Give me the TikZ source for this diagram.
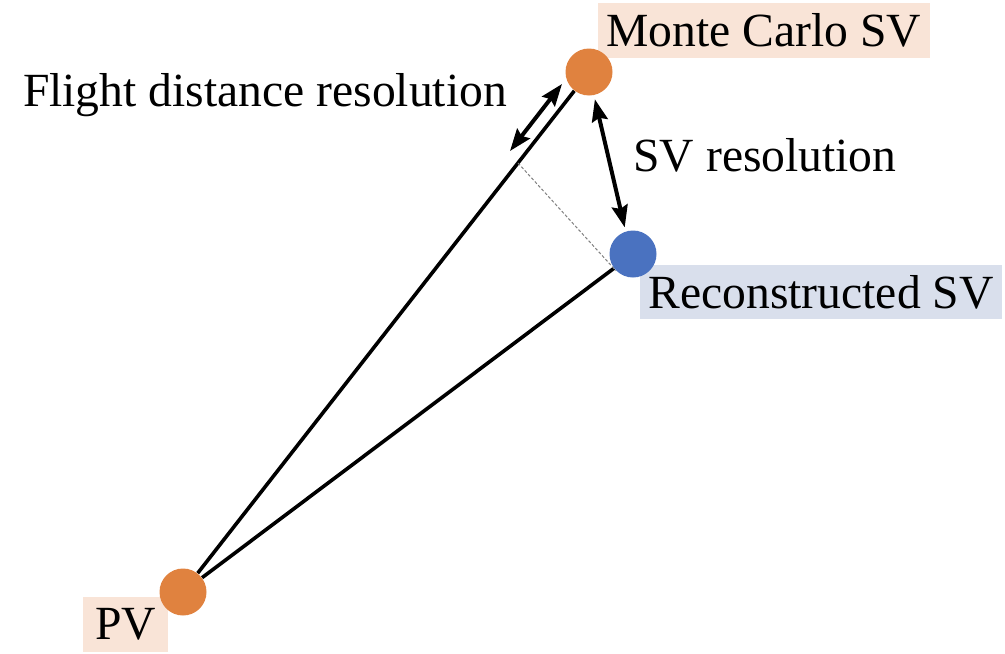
\documentclass[tikz,border=0pt]{standalone}
\usepackage{fontspec}
\setmainfont{Liberation Serif}
\usetikzlibrary{arrows.meta,calc}
\definecolor{dotorange}{HTML}{E0823F}
\definecolor{dotblue}{HTML}{4A72C0}
\definecolor{boxorange}{HTML}{F9E4D7}
\definecolor{boxblue}{HTML}{D9DFEC}
\tikzset{
  vtx/.style={circle,inner sep=0pt,minimum size=23.5pt},
  lbl/.style={inner sep=0pt,font=\fontsize{23.8}{28}\selectfont},
  track/.style={line width=1.8pt},
  dbl/.style={line width=2pt,{Stealth[length=11pt,width=8pt,inset=1.5pt]}-{Stealth[length=11pt,width=8pt,inset=1.5pt]}},
  proj/.style={line width=0.5pt,gray,dash pattern=on 1.5pt off 1pt}
}
\begin{document}
\begin{tikzpicture}[x=0.5pt,y=-0.5pt]
\useasboundingbox (0,0) rectangle (1005,653);
% label boxes
\node[lbl,fill=boxorange,minimum width=166pt,minimum height=27.5pt] (mclbl) at (764,30) {Monte Carlo SV};
\node[lbl,fill=boxblue,minimum width=181pt,minimum height=27pt] (recolbl) at (821,292) {Reconstructed SV};
\node[lbl,fill=boxorange,minimum width=42.5pt,minimum height=27.5pt] (pvlbl) at (125.5,624.5) {PV};
\node[lbl] (fdr) at (265,95) {Flight distance resolution};
\node[lbl] (svr) at (765,155) {SV resolution};
% vertices
\node[vtx] (pv) at (183,592) {};
\node[vtx] (mc) at (589,72) {};
\node[vtx] (reco) at (633,254) {};
% tracks
\draw[track] (pv) -- (mc);
\draw[track] (pv) -- (reco);
% projection
\coordinate (foot) at (518,163);
\draw[proj] (foot) -- (reco.225);
% resolutions
\coordinate (fa1) at (510,151);
\coordinate (fa2) at (562,84);
\draw[dbl] (fa1) -- (fa2);
\draw[dbl,shorten <=2pt,shorten >=2pt] (mc.-78) -- (reco.108);
% dots on top
\fill[dotorange] (pv) circle[radius=11.75pt];
\fill[dotorange] (mc) circle[radius=11.75pt];
\fill[dotblue] (reco) circle[radius=11.75pt];
\end{tikzpicture}
\end{document}
